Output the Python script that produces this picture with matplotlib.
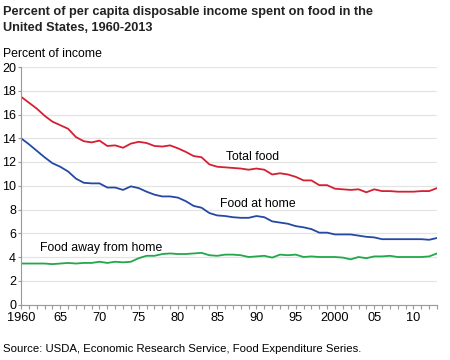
import numpy as np
import matplotlib
matplotlib.use("Agg")
import matplotlib.pyplot as plt

plt.rcParams['font.family'] = ['Liberation Sans', 'DejaVu Sans']

years = list(range(1960, 2014))

total_food = [17.5, 17.0, 16.5, 15.9, 15.4, 15.1, 14.8, 14.1, 13.75, 13.65,
              13.8, 13.35, 13.4, 13.2, 13.55, 13.7, 13.6, 13.35, 13.3, 13.4,
              13.15, 12.85, 12.5, 12.4, 11.8, 11.6, 11.55, 11.5, 11.45, 11.35,
              11.45, 11.35, 10.95, 11.05, 10.95, 10.75, 10.45, 10.45, 10.05, 10.05,
              9.75, 9.7, 9.65, 9.7, 9.45, 9.7, 9.55, 9.55, 9.5, 9.5,
              9.5, 9.55, 9.55, 9.8]

food_home = [14.0, 13.5, 12.95, 12.4, 11.9, 11.6, 11.2, 10.6, 10.25, 10.2,
             10.2, 9.85, 9.85, 9.65, 9.95, 9.8, 9.5, 9.25, 9.1, 9.1,
             9.0, 8.7, 8.3, 8.15, 7.7, 7.5, 7.45, 7.35, 7.3, 7.3,
             7.45, 7.35, 7.0, 6.9, 6.8, 6.6, 6.5, 6.35, 6.05, 6.05,
             5.9, 5.9, 5.9, 5.8, 5.7, 5.65, 5.5, 5.5, 5.5, 5.5,
             5.5, 5.5, 5.45, 5.6]

food_away = [3.45, 3.45, 3.45, 3.45, 3.4, 3.45, 3.5, 3.45, 3.5, 3.5,
             3.6, 3.5, 3.6, 3.55, 3.6, 3.9, 4.1, 4.1, 4.25, 4.3,
             4.25, 4.25, 4.3, 4.35, 4.15, 4.1, 4.2, 4.2, 4.15, 4.0,
             4.05, 4.1, 3.95, 4.2, 4.15, 4.2, 4.0, 4.05, 4.0, 4.0,
             4.0, 3.95, 3.8, 4.0, 3.9, 4.05, 4.05, 4.1, 4.0, 4.0,
             4.0, 4.0, 4.05, 4.3]

xtick_pos = [1960, 1965, 1970, 1975, 1980, 1985, 1990, 1995, 2000, 2005, 2010]
xtick_lab = ['1960', '65', '70', '75', '80', '85', '90', '95', '2000', '05', '10']

fig = plt.figure(figsize=(4.5, 3.6), dpi=100)
ax = fig.add_axes([21 / 450, 1 - 304.5 / 360, 416 / 450, 237.5 / 360])

ax.plot(years, total_food, color='#d42031', lw=1.3)
ax.plot(years, food_home, color='#2448a4', lw=1.3)
ax.plot(years, food_away, color='#22a84a', lw=1.3)

ax.set_xlim(1960, 2013)
ax.set_ylim(0, 20)
ax.set_yticks(range(0, 21, 2))
ax.set_xticks(xtick_pos)
ax.set_xticklabels(xtick_lab)
ax.set_xticks(years, minor=True)
ax.yaxis.grid(True, color='#e4e4e4', lw=0.9)
ax.set_axisbelow(True)

for s in ['top', 'right']:
    ax.spines[s].set_visible(False)
ax.spines['left'].set_color('#999999')
ax.spines['bottom'].set_color('#999999')
ax.tick_params(axis='y', length=2, width=0.8, color='#999999', pad=1.5, labelsize=9)
ax.tick_params(axis='x', which='both', length=3, width=0.8, color='#999999',
               pad=2.5, labelsize=9.2)

ax.text(1986.1, 12.4, 'Total food', fontsize=8.8, va='center')
ax.text(1985.3, 8.45, 'Food at home', fontsize=8.8, va='center')
ax.text(1962.4, 4.75, 'Food away from home', fontsize=8.8, va='center')

fig.text(3 / 450, 1 - 12 / 360, 'Percent of per capita disposable income spent on food in the',
         fontsize=9.2, fontweight='bold', va='center', color='#222222')
fig.text(3 / 450, 1 - 28 / 360, 'United States, 1960-2013',
         fontsize=9.2, fontweight='bold', va='center', color='#222222')
fig.text(3 / 450, 1 - 54 / 360, 'Percent of income', fontsize=8.8, va='center')
fig.text(3 / 450, 1 - 349 / 360, 'Source: USDA, Economic Research Service, Food Expenditure Series.',
         fontsize=8.2, va='center')

fig.savefig('out.png', dpi=100)
